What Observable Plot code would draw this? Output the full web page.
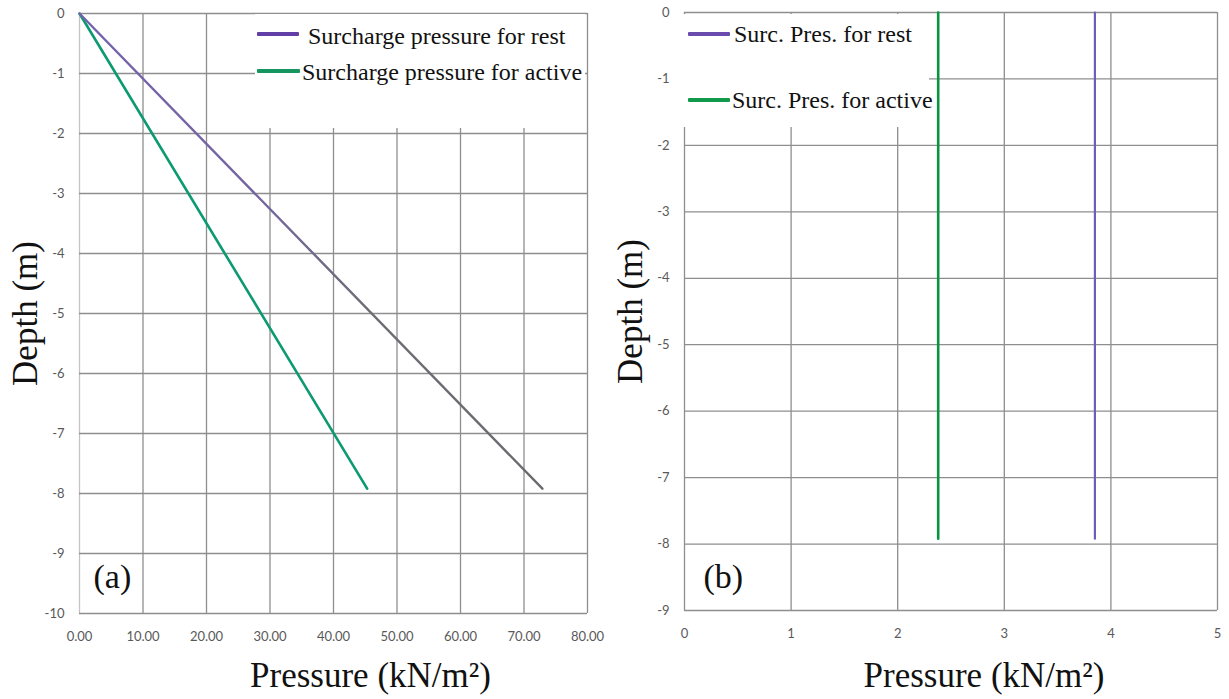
<!DOCTYPE html>
<html>
<head>
<meta charset="utf-8">
<script src="https://cdn.jsdelivr.net/npm/d3@7"></script>
<script src="https://cdn.jsdelivr.net/npm/@observablehq/plot@0.6"></script>
<style>
  html, body { margin: 0; padding: 0; background: #fff; }
  #chart { position: relative; width: 1229px; height: 699px; background: #fff; overflow: hidden; }
  .panel { position: absolute; top: 0; }
  .legend { position: absolute; background: #fff; font-family: "Liberation Serif", "Times New Roman", serif; color: #111; }
  .legend .sw { position: absolute; height: 4px; border-radius: 1px; }
  .legend .lbl { position: absolute; line-height: 1; white-space: nowrap; }
</style>
</head>
<body>
<div id="chart">
  <div id="panelA" class="panel" style="left:0"></div>
  <div id="panelB" class="panel" style="left:614px"></div>
</div>
<script>
// ---- Panel (a): surcharge pressure growing linearly with depth ----
const depthA = [0, -7.92];
const restPressureA = [0, 72.9];
const activePressureA = [0, 45.3];
const xTicksA = [0, 10, 20, 30, 40, 50, 60, 70, 80];
const yTicksA = [0, -1, -2, -3, -4, -5, -6, -7, -8, -9, -10];

// ---- Panel (b): constant surcharge pressure over the depth ----
const depthB = [0, -7.92];
const restPressureB = [3.85, 3.85];
const activePressureB = [2.38, 2.38];
const xTicksB = [0, 1, 2, 3, 4, 5];
const yTicksB = [0, -1, -2, -3, -4, -5, -6, -7, -8, -9];

const legendA = ["Surcharge pressure for rest", "Surcharge pressure for active"];
const legendB = ["Surc. Pres. for rest", "Surc. Pres. for active"];
const xTitle = "Pressure (kN/m²)";
const yTitle = "Depth (m)";

const toRows = (xs, ys) => xs.map((x, i) => ({x, y: ys[i]}));
const gridColor = "#8e8e8e";
const serif = "Liberation Serif";

function panel({width, margins, xDomain, yDomain, xTicks, yTicks, xFmt, series, tag, titleDx, titleDy, zeroGrid}) {
  return Plot.plot({
    width, height: 699,
    marginLeft: margins[0], marginRight: margins[1], marginTop: margins[2], marginBottom: margins[3],
    style: {fontFamily: "Lato", fontSize: "13px", color: "#595959", background: "transparent", overflow: "visible"},
    x: {domain: xDomain, ticks: xTicks, tickFormat: xFmt, tickSize: 0, tickPadding: 18, label: null},
    y: {domain: yDomain, ticks: yTicks, tickFormat: d => String(d), tickSize: 0, tickPadding: 15, label: null},
    marks: [
      Plot.gridX(xTicks.filter(t => t !== 0), {stroke: gridColor, strokeOpacity: 1, strokeWidth: 1.3}),
      Plot.gridX([0], {stroke: zeroGrid, strokeOpacity: 1, strokeWidth: 1.3}),
      Plot.gridY(yTicks, {stroke: gridColor, strokeOpacity: 1, strokeWidth: 1.3}),
      ...series.map(s => Plot.line(s.rows, {x: "x", y: "y", stroke: s.color, strokeWidth: s.width})),
      Plot.text([xTitle], {frameAnchor: "bottom", textAnchor: "middle", dx: titleDx, dy: titleDy, fontFamily: serif, fontSize: 35, fill: "#111"}),
      Plot.text([yTitle], {frameAnchor: "left", textAnchor: "middle", dx: -54, dy: 0, rotate: -90, fontFamily: serif, fontSize: 35, fill: "#111"}),
      Plot.text([tag.text], {frameAnchor: "bottom-left", textAnchor: "start", dx: tag.dx, dy: tag.dy, fontFamily: serif, fontSize: 34, fill: "#111"})
    ]
  });
}

const svgA = panel({
  width: 614, margins: [79, 27, 13, 86],
  xDomain: [0, 80], yDomain: [-10, 0], xTicks: xTicksA, yTicks: yTicksA,
  xFmt: d => d.toFixed(2),
  series: [
    {rows: toRows(activePressureA, depthA), color: "#0c9a70", width: 2.6},
    {rows: toRows(restPressureA, depthA), color: "url(#restFade)", width: 2.4}
  ],
  tag: {text: "(a)", dx: 14, dy: -26},
  titleDx: 37, titleDy: 73, zeroGrid: "#c4c4c4"
});
// purple fading to grey down the "rest" line
const defs = d3.select(svgA).insert("defs", ":first-child");
const grad = defs.append("linearGradient").attr("id", "restFade")
  .attr("x1", 0).attr("y1", 0).attr("x2", 0).attr("y2", 1);
grad.append("stop").attr("offset", "0").attr("stop-color", "#7462ad");
grad.append("stop").attr("offset", "0.4").attr("stop-color", "#7566a0");
grad.append("stop").attr("offset", "0.62").attr("stop-color", "#6d6d74");
grad.append("stop").attr("offset", "1").attr("stop-color", "#6a6a6e");
document.getElementById("panelA").append(svgA);

const svgB = panel({
  width: 615, margins: [70, 12, 12, 89],
  xDomain: [0, 5], yDomain: [-9, 0], xTicks: xTicksB, yTicks: yTicksB,
  xFmt: d => String(d),
  series: [
    {rows: toRows(activePressureB, depthB), color: "#06963f", width: 2.6},
    {rows: toRows(restPressureB, depthB), color: "#6c60b6", width: 2.2}
  ],
  tag: {text: "(b)", dx: 19, dy: -23},
  titleDx: 33, titleDy: 76, zeroGrid: gridColor
});
document.getElementById("panelB").append(svgB);

// ---- legends (white boxes sitting over the grid) ----
function legend({left, top, width, height, fontSize, rows}) {
  const box = document.createElement("div");
  box.className = "legend";
  Object.assign(box.style, {left: left + "px", top: top + "px", width: width + "px", height: height + "px", fontSize: fontSize + "px"});
  rows.forEach(r => {
    const sw = document.createElement("div");
    sw.className = "sw";
    Object.assign(sw.style, {left: r.swLeft + "px", width: r.swWidth + "px", top: (r.swY - top - 2) + "px", background: r.color});
    const lbl = document.createElement("div");
    lbl.className = "lbl";
    lbl.textContent = r.text;
    Object.assign(lbl.style, {left: r.textLeft + "px", top: (r.baseline - top - 0.8375 * fontSize) + "px"});
    box.append(sw, lbl);
  });
  document.getElementById("chart").append(box);
}

legend({
  left: 255, top: 14, width: 330, height: 114, fontSize: 24,
  rows: [
    {text: legendA[0], color: "#623fa6", swLeft: 2, swWidth: 42, swY: 34, textLeft: 53, baseline: 44},
    {text: legendA[1], color: "#159660", swLeft: 2, swWidth: 43, swY: 71, textLeft: 47, baseline: 80}
  ]
});
legend({
  left: 680, top: 14, width: 249, height: 113, fontSize: 24,
  rows: [
    {text: legendB[0], color: "#6a4cae", swLeft: 8, swWidth: 42, swY: 34, textLeft: 54, baseline: 42},
    {text: legendB[1], color: "#119a4c", swLeft: 8, swWidth: 42, swY: 100, textLeft: 52, baseline: 108}
  ]
});
</script>
</body>
</html>
